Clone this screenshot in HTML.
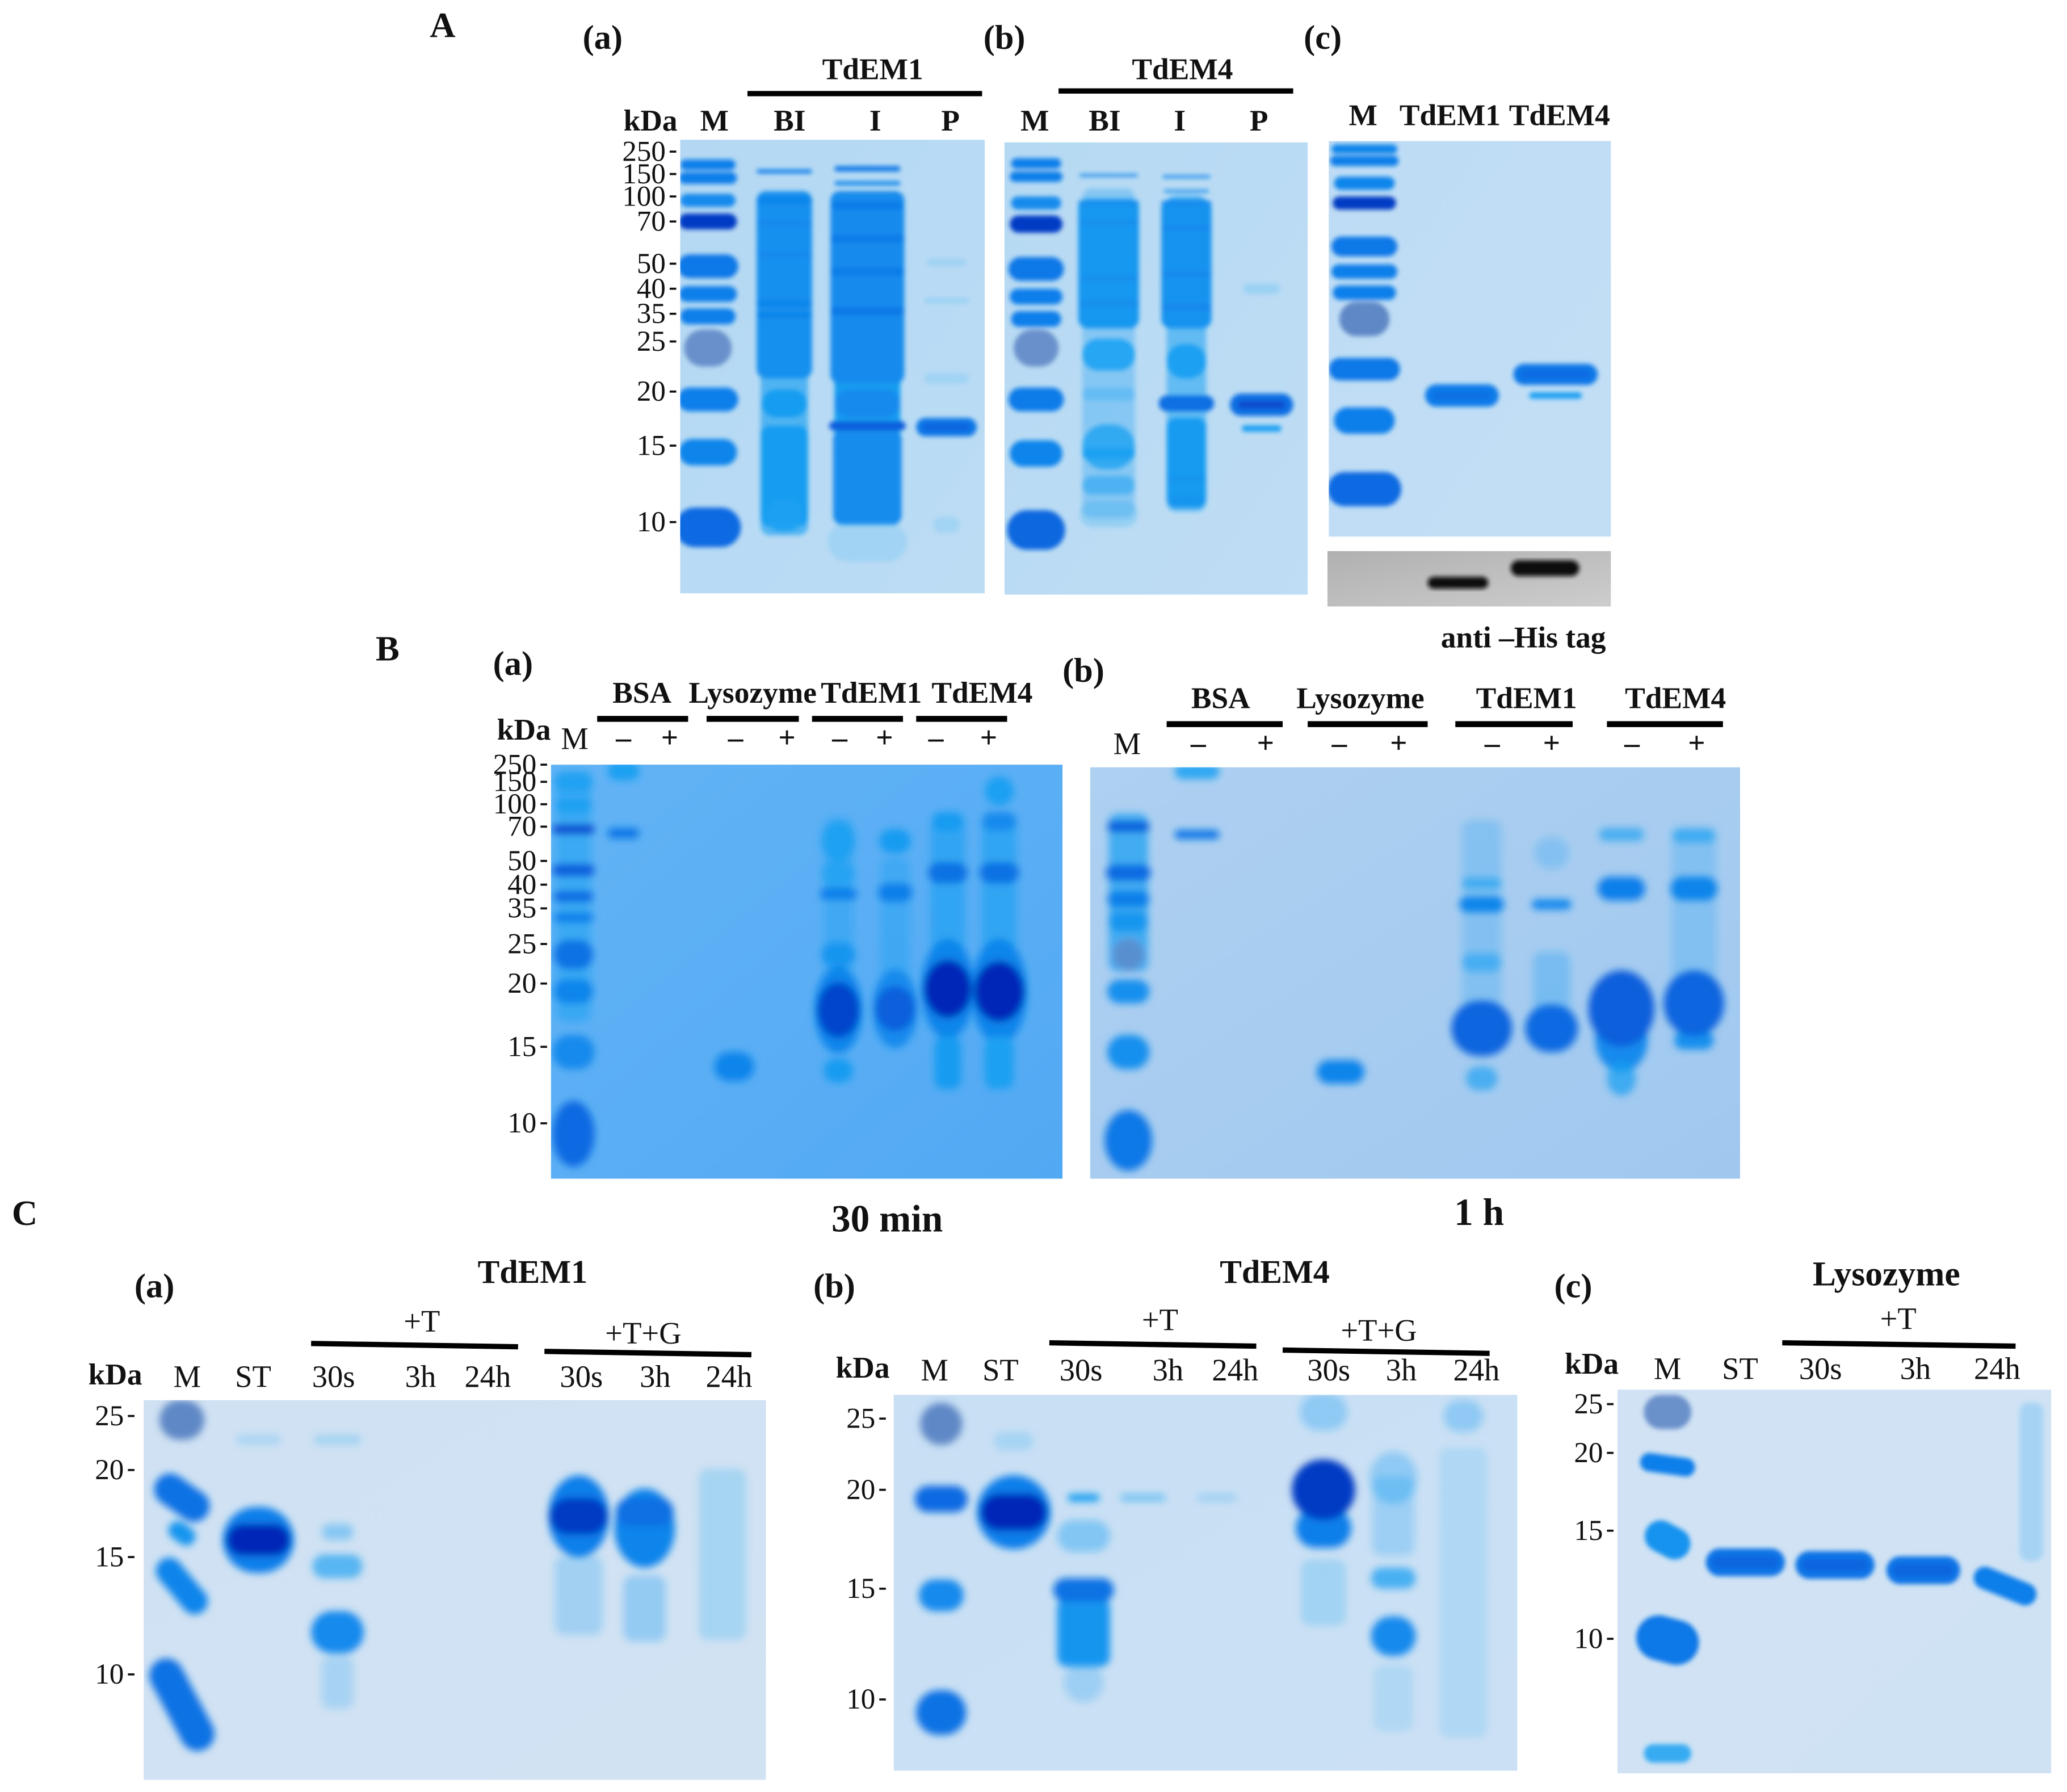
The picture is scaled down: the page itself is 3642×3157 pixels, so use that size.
<!DOCTYPE html>
<html lang="en">
<head>
<meta charset="utf-8">
<title>SDS-PAGE gels of TdEM1 and TdEM4</title>
<style>
html,body{margin:0;padding:0;background:#fff;}
svg{display:block;}
text{font-family:"Liberation Serif",serif;fill:#111;}
.h{font-weight:bold;font-size:23px;}
.c{font-weight:bold;font-size:25px;}
.p{font-weight:bold;font-size:27px;}
.s{font-weight:bold;font-size:26px;}
.r{font-size:23.5px;}
.m{text-anchor:middle;}
.e{text-anchor:end;}
.tick{font-size:22px;text-anchor:end;}
</style>
</head>
<body>
<svg id="figure" xmlns="http://www.w3.org/2000/svg" width="3642" height="3157" viewBox="0 0 1568 1359.2">
<defs>
  <filter id="soft" x="-10%" y="-10%" width="120%" height="120%"><feGaussianBlur stdDeviation="1.7"/></filter>
  <filter id="softer" x="-10%" y="-10%" width="120%" height="120%"><feGaussianBlur stdDeviation="2.8"/></filter>
</defs>

<g>
  <text class="p" x="326" y="28">A</text>
  <text class="s" x="442" y="37">(a)</text>
  <text class="s" x="746" y="37">(b)</text>
  <text class="s" x="989" y="37">(c)</text>
  <text class="h m" x="662" y="60">TdEM1</text>
  <rect x="567" y="69" width="178" height="4" fill="#000"/>
  <text class="h m" x="897" y="60">TdEM4</text>
  <rect x="803" y="67" width="178" height="4" fill="#000"/>
  <text class="h" x="473" y="99">kDa</text>
  <text class="h m" x="542" y="99">M</text>
  <text class="h m" x="599" y="99">BI</text>
  <text class="h m" x="664" y="99">I</text>
  <text class="h m" x="721" y="99">P</text>
  <text class="h m" x="785" y="99">M</text>
  <text class="h m" x="838" y="99">BI</text>
  <text class="h m" x="895" y="99">I</text>
  <text class="h m" x="955" y="99">P</text>
  <text class="h m" x="1034" y="95">M</text>
  <text class="h m" x="1100" y="95">TdEM1</text>
  <text class="h m" x="1183" y="95">TdEM4</text>
  <text class="h" x="1093" y="491">anti –His tag</text>
  <g id="gelAa"></g>
  <g id="gelAb"></g>
  <g id="gelAc"></g>
  <g id="gelBlot"></g>
</g>

<g>
  <text class="p" x="285" y="501">B</text>
  <text class="s" x="374" y="512">(a)</text>
  <text class="s" x="806" y="517">(b)</text>
  <text class="h m" x="487" y="533">BSA</text>
  <text class="h m" x="571" y="533">Lysozyme</text>
  <text class="h m" x="661" y="533">TdEM1</text>
  <text class="h m" x="745" y="533">TdEM4</text>
  <rect x="453" y="543" width="69" height="4.5" fill="#000"/>
  <rect x="536" y="543" width="70" height="4.5" fill="#000"/>
  <rect x="616" y="543" width="69" height="4.5" fill="#000"/>
  <rect x="695" y="543" width="69" height="4.5" fill="#000"/>
  <text class="h" x="377" y="561">kDa</text>
  <text class="r m" x="436" y="568">M</text>
  <g class="h m">
    <text class="h m" x="473" y="567">–</text><text class="h m" x="508" y="567">+</text>
    <text class="h m" x="558" y="567">–</text><text class="h m" x="597" y="567">+</text>
    <text class="h m" x="637" y="567">–</text><text class="h m" x="671" y="567">+</text>
    <text class="h m" x="710" y="567">–</text><text class="h m" x="750" y="567">+</text>
  </g>
  <text class="h m" x="926" y="537">BSA</text>
  <text class="h m" x="1032" y="537">Lysozyme</text>
  <text class="h m" x="1158" y="537">TdEM1</text>
  <text class="h m" x="1271" y="537">TdEM4</text>
  <rect x="885" y="547" width="88" height="4.5" fill="#000"/>
  <rect x="992" y="547" width="91" height="4.5" fill="#000"/>
  <rect x="1104" y="547" width="89" height="4.5" fill="#000"/>
  <rect x="1219" y="547" width="88" height="4.5" fill="#000"/>
  <text class="r m" x="855" y="572">M</text>
  <g>
    <text class="h m" x="909" y="571">–</text><text class="h m" x="960" y="571">+</text>
    <text class="h m" x="1016" y="571">–</text><text class="h m" x="1061" y="571">+</text>
    <text class="h m" x="1132" y="571">–</text><text class="h m" x="1177" y="571">+</text>
    <text class="h m" x="1238" y="571">–</text><text class="h m" x="1287" y="571">+</text>
  </g>
  <g id="gelBa"></g>
  <g id="gelBb"></g>
  <text class="h m" x="673" y="934" style="font-size:29px">30 min</text>
  <text class="h m" x="1122" y="929" style="font-size:29px">1 h</text>
</g>

<g>
  <text class="p" x="9" y="929">C</text>
  <text class="s" x="102" y="984">(a)</text>
  <text class="c m" x="404" y="973">TdEM1</text>
  <text class="r m" x="320" y="1010">+T</text>
  <text class="r m" x="488" y="1019">+T+G</text>
  <line x1="236" y1="1019" x2="393" y2="1021.5" stroke="#000" stroke-width="4"/>
  <line x1="413" y1="1025" x2="570" y2="1027.5" stroke="#000" stroke-width="4"/>
  <text class="h" x="67" y="1050">kDa</text>
  <g>
    <text class="r m" x="142" y="1052">M</text><text class="r m" x="192" y="1052">ST</text><text class="r m" x="253" y="1052">30s</text><text class="r m" x="319" y="1052">3h</text><text class="r m" x="370" y="1052">24h</text><text class="r m" x="441" y="1052">30s</text><text class="r m" x="497" y="1052">3h</text><text class="r m" x="553" y="1052">24h</text>
  </g>
  <text class="s" x="617" y="984">(b)</text>
  <text class="c m" x="967" y="973">TdEM4</text>
  <text class="r m" x="880" y="1009">+T</text>
  <text class="r m" x="1046" y="1017">+T+G</text>
  <line x1="796" y1="1018.5" x2="953" y2="1021" stroke="#000" stroke-width="4"/>
  <line x1="973" y1="1024" x2="1130" y2="1026.5" stroke="#000" stroke-width="4"/>
  <text class="h" x="634" y="1045">kDa</text>
  <g>
    <text class="r m" x="709" y="1047">M</text><text class="r m" x="759" y="1047">ST</text><text class="r m" x="820" y="1047">30s</text><text class="r m" x="886" y="1047">3h</text><text class="r m" x="937" y="1047">24h</text><text class="r m" x="1008" y="1047">30s</text><text class="r m" x="1063" y="1047">3h</text><text class="r m" x="1120" y="1047">24h</text>
  </g>
  <text class="s" x="1179" y="984">(c)</text>
  <text class="c m" x="1431" y="975" style="font-size:26.5px">Lysozyme</text>
  <text class="r m" x="1440" y="1008">+T</text>
  <line x1="1352" y1="1018.5" x2="1529" y2="1021" stroke="#000" stroke-width="4"/>
  <text class="h" x="1187" y="1042">kDa</text>
  <g>
    <text class="r m" x="1265" y="1046">M</text><text class="r m" x="1320" y="1046">ST</text><text class="r m" x="1381" y="1046">30s</text><text class="r m" x="1453" y="1046">3h</text><text class="r m" x="1515" y="1046">24h</text>
  </g>
  <g id="gelCa"></g>
  <g id="gelCb"></g>
  <g id="gelCc"></g>
</g>

<script>
// Band rows: lane index, migration distance, stain intensity, breadth, spread, tilt, tone
const AaKda = ['250','150','100','70','50','40','35','25','20','15','10'];
const AaKdaMigration = [9,26,43,62,94,113,132,153,191,232,290];
const AaBands = [
[0,19,.6,42,8],[0,29,.6,44,9],[0,46,.5,42,10],[0,62,.95,44,12],[0,96,.65,46,18],[0,117,.6,44,12],[0,134,.6,42,12],[0,158,.45,36,28,0,'g'],[0,197,.6,46,18],[0,237,.55,44,20],[0,294,.75,50,30],
[1,175,.2,36,250],[1,24,.6,42,3],[1,110,.45,42,142],[1,46,.55,42,6],[1,63,.5,42,5],[1,87,.5,42,5],[1,124,.55,42,5],[1,133,.55,42,5],[1,200,.33,34,21],[1,255,.33,36,76],[1,285,.25,28,24],
[2,170,.32,50,240],[2,22,.65,50,4],[2,33,.55,50,3],[2,112,.49,56,146],[2,50,.62,54,6],[2,75,.62,56,6],[2,100,.62,56,6],[2,130,.65,56,6],[2,200,.49,50,22],[2,256,.48,52,72],[2,217,.85,58,7],[2,305,.04,60,30],
[3,218,.65,46,14],[3,218,.8,36,6],[3,93,.04,30,6],[3,122,.05,34,4],[3,181,.04,34,8],[3,292,.04,20,12]];

const AbBands = [
[0,16,.6,38,8],[0,26,.6,40,8],[0,46,.5,38,10],[0,62,.95,40,13],[0,96,.65,42,18],[0,117,.6,40,12],[0,134,.6,38,12],[0,156,.45,34,28,0,'g'],[0,195,.62,42,18],[0,236,.55,40,20],[0,294,.78,44,30],
[1,160,.1,40,250],[1,25,.5,44,2],[1,92,.38,46,98],[1,46,.45,46,4],[1,61,.45,46,4],[1,103,.45,46,4],[1,122,.45,46,5],[1,161,.26,40,24],[1,191,.08,40,10],[1,231,.23,40,34],[1,236,.3,40,8],[1,260,.16,40,14],[1,282,.06,44,20],
[2,160,.16,30,240],[2,26,.5,36,2],[2,37,.45,34,2],[2,92,.42,38,98],[2,46,.5,38,3],[2,65,.5,38,4],[2,100,.52,38,4],[2,125,.52,38,5],[2,166,.3,30,26],[2,243,.35,30,68],[2,198,.72,42,12],[2,255,.4,30,6],[2,272,.4,28,10],
[3,199,.72,48,17],[3,199,.9,36,6],[3,217,.3,30,5],[3,111,.05,28,8]];

const AcBands = [
[0,6,.55,50,7],[0,15,.6,52,8],[0,32,.55,46,10],[0,47,.95,48,10],[0,80,.65,50,15],[0,99,.6,50,11],[0,115,.6,48,11],[0,135,.5,38,26,0,'g'],[0,173,.65,54,17],[0,212,.6,46,20],[0,264,.75,56,26],
[1,193,.62,56,17],[1,193,.72,44,6],
[2,177,.65,64,16],[2,177,.75,52,6],[2,193,.3,40,5]];

const BlotBands = [[1,24,1,46,9,0,'k'],[2,13,1,52,12,0,'k']];

const BaKda = ['250','150','100','70','50','40','35','25','20','15','10'];
const BaKdaMigration = [0,13,30,47,73,91,109,136,166,214,272];
const BaBands = [
[0,100,.15,26,190],[0,13,.22,30,16],[0,31,.3,28,10],[0,49,.9,32,7],[0,80,.85,32,9],[0,100,.75,30,8],[0,116,.6,30,7],[0,144,.7,30,22],[0,172,.55,30,18],[0,218,.5,32,26],[0,280,.75,32,50],
[1,5,.3,24,14],[1,52,.65,24,8],
[3,229,.55,30,22],
[5,110,.12,22,140],[5,58,.25,26,30],[5,83,.2,26,20],[5,98,.6,28,9],[5,144,.4,26,18],[5,186,.55,36,66],[5,186,.92,32,42],[5,232,.35,22,18],
[6,120,.12,22,100],[6,58,.35,24,18],[6,97,.6,26,14],[6,185,.5,34,60],[6,185,.85,30,34],
[7,110,.2,26,140],[7,43,.35,24,14],[7,82,.7,30,16],[7,170,.55,40,76],[7,170,1,36,44],[7,226,.35,20,40],
[8,110,.2,26,140],[8,20,.28,22,22],[8,43,.5,26,14],[8,82,.7,30,16],[8,172,.55,42,80],[8,172,1,38,46],[8,226,.3,22,40]];

const BbBands = [
[0,95,.22,30,120],[0,45,.85,32,8],[0,80,.75,34,12],[0,100,.6,32,12],[0,117,.4,30,14],[0,142,.4,24,24,0,'g'],[0,170,.45,32,18],[0,216,.45,32,26],[0,283,.65,36,46],
[1,3,.25,34,12],[1,51,.65,34,7],
[3,231,.55,36,18],
[5,120,.08,30,160],[5,88,.2,30,8],[5,104,.55,34,12],[5,148,.17,30,14],[5,198,.8,46,42],[5,236,.2,24,18],
[6,165,.1,28,50],[6,65,.08,26,24],[6,104,.5,30,8],[6,198,.75,40,36],
[7,206,.5,40,50],[7,51,.2,34,10],[7,92,.6,36,18],[7,183,.85,50,58],[7,236,.22,22,26],
[8,120,.08,34,150],[8,52,.2,32,10],[8,92,.55,36,18],[8,207,.45,30,14],[8,179,.8,46,50]];

const CaKda = ['25','20','15','10'];
const CaKdaMigration = [12,53,119,208];
const CaBands = [
[0,15,.5,34,30,0,'g'],[0,74,.7,46,24,35],[0,101,.4,22,14,35],[0,141,.55,50,20,50],[0,231,.7,76,26,62],
[1,106,.6,54,50],[1,106,1,48,24],[1,30,.05,34,8],
[2,30,.06,36,8],[2,100,.12,24,12],[2,126,.2,38,18],[2,176,.5,40,32],[2,214,.07,24,40],
[5,148,.08,36,60],[5,88,.6,46,62],[5,88,.95,44,28],
[6,158,.1,32,50],[6,97,.55,46,60],[6,85,.72,44,22],
[7,117,.06,36,130]];

const CbKda = ['25','20','15','10'];
const CbKdaMigration = [18,72,147,231];
const CbBands = [
[0,22,.5,32,32,0,'g'],[0,79,.75,40,20],[0,152,.5,34,24],[0,241,.7,38,34],
[1,89,.6,56,56],[1,89,1,50,28],[1,35,.05,30,14],
[2,78,.3,24,6],[2,107,.12,40,24],[2,180,.4,40,52],[2,148,.7,46,18],[2,218,.08,30,30],
[3,78,.15,34,5],[4,78,.08,30,5],
[5,150,.06,34,50],[5,101,.6,42,30],[5,72,.95,48,46],[5,13,.1,36,28],
[6,63,.1,36,40],[6,92,.08,32,60],[6,139,.22,34,16],[6,183,.5,34,30],[6,230,.04,30,50],
[7,16,.1,30,24],[7,150,.04,36,220]];

const CcKda = ['25','20','15','10'];
const CcKdaMigration = [11,48,107,189];
const CcBands = [
[0,17,.45,36,26,0,'g'],[0,57,.6,42,14,8],[0,114,.42,36,24,28],[0,190,.65,48,34,15],[0,276,.25,36,14],
[1,131,.68,60,21],[1,131,.8,50,9],
[2,133,.68,60,21],[2,133,.8,50,9],
[3,137,.68,56,21],[3,137,.8,46,9],
[4,149,.6,50,17,22],
[5,70,.07,18,120]];

const NS = 'http://www.w3.org/2000/svg';

function make(tag, attrs, parent){
  const el = document.createElementNS(NS, tag);
  for (const k in attrs) el.setAttribute(k, attrs[k]);
  parent.appendChild(el);
  return el;
}

function mix(a, b, t){
  const p = s => [1,3,5].map(i => parseInt(s.substr(i,2),16));
  const A = p(a), B = p(b);
  return 'rgb(' + A.map((v,i) => Math.round(v + (B[i]-v)*t)).join(',') + ')';
}

function stain(i, tone){
  if (tone === 'g') return {c:'#5f88c6', o:Math.min(1, i/.5)};
  if (tone === 'k') return {c:'#101010', o:1};
  if (i <= .3) return {c:'#1aa0f2', o:i/.3};
  if (i <= .6) return {c:mix('#1aa0f2','#0f7fea',(i-.3)/.3), o:1};
  if (i <= .85) return {c:mix('#0f7fea','#0a5edc',(i-.6)/.25), o:1};
  return {c:mix('#0a5edc','#0028b8',(i-.85)/.15), o:1};
}

function drawGel(id, g, bands, tickLabels, tickMigration){
  const root = document.getElementById(id);
  const xScale = lane => g.left + g.lanes[lane];
  const yScale = mig => g.top + mig;
  const gradId = id + '-bg', clipId = id + '-clip';
  const defs = make('defs', {}, root);
  const grad = make('linearGradient', {id:gradId, x1:0, y1:0, x2:1, y2:1}, defs);
  make('stop', {offset:'0', 'stop-color':g.bg[0]}, grad);
  make('stop', {offset:'1', 'stop-color':g.bg[1]}, grad);
  const clip = make('clipPath', {id:clipId}, defs);
  make('rect', {x:g.left, y:g.top, width:g.w, height:g.h}, clip);
  const bg = make('rect', {x:g.left, y:g.top, width:g.w, height:g.h, fill:'url(#'+gradId+')'}, root);
  
  
  const clipped = make('g', {'clip-path':'url(#'+clipId+')'}, root);
  const soft = make('g', {filter:'url(#'+(g.blur||'soft')+')'}, clipped);
  bands.forEach(b => {
    const [lane, mig, i, w, h, rot, tone] = b;
    const s = stain(i, tone);
    const cx = xScale(lane), cy = yScale(mig);
    const smear = h > w * 1.2 && i < .5;
    const cornerX = smear ? 7 : (h > w ? w / 2 : Math.min(w, h) / 2);
    const cornerY = smear ? 7 : (h > w ? h / 2 : Math.min(w, h) / 2);
    const rect = make('rect', {x:cx-w/2, y:cy-h/2, width:w, height:h, rx:cornerX, ry:cornerY, fill:s.c, 'fill-opacity':s.o}, soft);
    if (rot) rect.setAttribute('transform', 'rotate('+rot+' '+cx+' '+cy+')');
    
    
  });
  (tickLabels||[]).forEach((label, n) => {
    const y = yScale(tickMigration[n]);
    const t = make('text', {x:g.left-g.tickGap, y:y+7, class:'tick'}, root);
    t.textContent = label;
    
    
    const d = make('rect', {x:g.left-g.tickGap+3, y:y-.8, width:5, height:1.6, fill:'#111'}, root);
    
    
  });
}

drawGel('gelAa', {left:516, top:106, w:231, h:344, bg:['#b4d8f3','#bcdcf4'], lanes:[21,79,142,202], tickGap:11}, AaBands, AaKda, AaKdaMigration);
drawGel('gelAb', {left:762, top:108, w:230, h:343, bg:['#b6d9f3','#bfddf4'], lanes:[24,79,138,195], tickGap:11}, AbBands);
drawGel('gelAc', {left:1008, top:107, w:214, h:300, bg:['#bedcf5','#c2def5'], lanes:[27,101,172], tickGap:11}, AcBands);
drawGel('gelBlot', {left:1007, top:418, w:215, h:42, bg:['#b0b0b0','#cdcdcd'], lanes:[27,99,165], tickGap:11}, BlotBands);
drawGel('gelBa', {left:418, top:580, w:388, h:314, bg:['#62b3f5','#52a9f3'], lanes:[17,55,90,139,179,218,261,301,340], tickGap:11, blur:'softer'}, BaBands, BaKda, BaKdaMigration);
drawGel('gelBb', {left:827, top:582, w:493, h:312, bg:['#aed0f1','#a0c8ef'], lanes:[29,81,133,190,234,297,350,403,458], tickGap:11, blur:'softer'}, BbBands);
drawGel('gelCa', {left:109, top:1062, w:472, h:288, bg:['#cfe1f3','#d1e2f3'], lanes:[29,87,147,210,261,330,380,439], tickGap:15, blur:'softer'}, CaBands, CaKda, CaKdaMigration);
drawGel('gelCb', {left:678, top:1058, w:473, h:285, bg:['#c8dff4','#cbe0f4'], lanes:[36,91,144,189,245,326,379,432], tickGap:14, blur:'softer'}, CbBands, CbKda, CbKdaMigration);
drawGel('gelCc', {left:1227, top:1054, w:329, h:291, bg:['#d0e2f4','#cfe2f4'], lanes:[38,97,165,232,294,314], tickGap:11}, CcBands, CcKda, CcKdaMigration);
</script>
</svg>
</body>
</html>
